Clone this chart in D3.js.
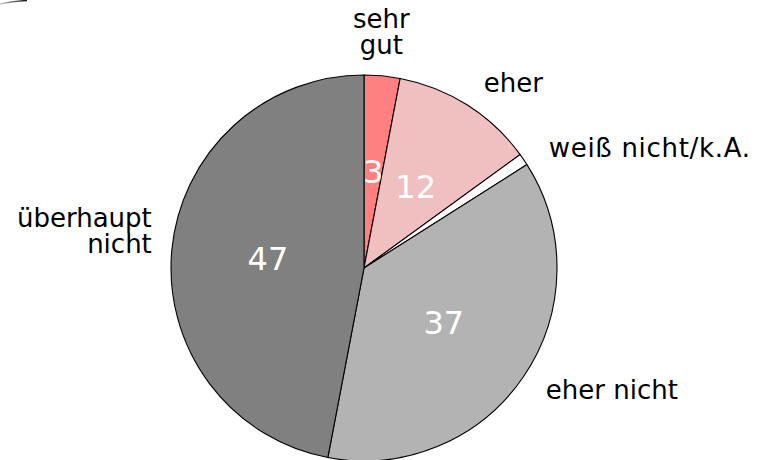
<!DOCTYPE html>
<html><head><meta charset="utf-8">
<script src="https://cdn.jsdelivr.net/npm/d3@7"></script>
<style>html,body{margin:0;padding:0;background:#fff;}svg{display:block;}</style>
</head><body>
<svg id="chart" width="757" height="460"></svg>
<script>
// Data
const categories = ["sehr gut", "eher", "weiß nicht/k.A.", "eher nicht", "überhaupt nicht"];
const values = [3, 12, 1, 37, 47];
const valueLabels = ["3", "12", "", "37", "47"];
const colors = ["#FF8080", "#F0C0C1", "#FFFFFF", "#B3B3B3", "#808080"];

// Layout (not data)
const W = 757, H = 460;
const cx = 364, cy = 268, r = 193;
const labelLines = [["sehr", "gut"], ["eher"], ["weiß nicht/k.A."], ["eher nicht"], ["überhaupt", "nicht"]];
const outerR = 1.12 * r;
const nudges = [[-3, -21, "middle", 0], [4, -3, "start", 0], [6, 1, "start", 0.7], [3, 0, "start", 0], [3, -17, "end", 0]];

const svg = d3.select("#chart");

// small artifact at top-left
const grad = svg.append("defs").append("linearGradient").attr("id", "g1").attr("x1", "0").attr("x2", "1");
grad.append("stop").attr("offset", "0").attr("stop-color", "#ccc");
grad.append("stop").attr("offset", "1").attr("stop-color", "#111");
svg.append("path").attr("d", "M0,4 Q12,1.5 27,0.5").attr("fill", "none").attr("stroke", "url(#g1)").attr("stroke-width", 1.6);

const pie = d3.pie().sort(null).value(d => d)(values);
const arc = d3.arc().innerRadius(0).outerRadius(r);
const g = svg.append("g").attr("transform", `translate(${cx},${cy})`);

g.selectAll("path.slice").data(pie).enter().append("path")
  .attr("class", "slice")
  .attr("d", arc)
  .attr("fill", (d, i) => colors[i])
  .attr("stroke", "#000")
  .attr("stroke-width", 1.1)
  .attr("stroke-linejoin", "round");

const inner = d3.arc().innerRadius(0.5 * r).outerRadius(0.5 * r);
g.selectAll("text.val").data(pie).enter().append("text")
  .attr("class", "val")
  .attr("transform", d => `translate(${inner.centroid(d)})`)
  .attr("text-anchor", "middle")
  .attr("dy", "0.36em")
  .attr("fill", "#fff")
  .style("font-family", "'DejaVu Sans', Verdana, sans-serif")
  .style("font-size", "32px")
  .text((d, i) => valueLabels[i]);

const outer = d3.arc().innerRadius(outerR).outerRadius(outerR);
pie.forEach((d, i) => {
  const [x, y] = outer.centroid(d);
  const n = nudges[i];
  const lines = labelLines[i];
  const lh = 26;
  const t = g.append("text")
    .attr("text-anchor", n[2])
    .attr("fill", "#000")
    .style("font-family", "'DejaVu Sans', Verdana, sans-serif")
    .style("font-size", "26px")
    .style("letter-spacing", n[3] + "px");
  lines.forEach((ln, k) => {
    t.append("tspan")
      .attr("x", x + n[0])
      .attr("y", y + n[1] + (k - (lines.length - 1) / 2) * lh)
      .attr("dy", "0.36em")
      .text(ln);
  });
});
</script>
</body></html>
